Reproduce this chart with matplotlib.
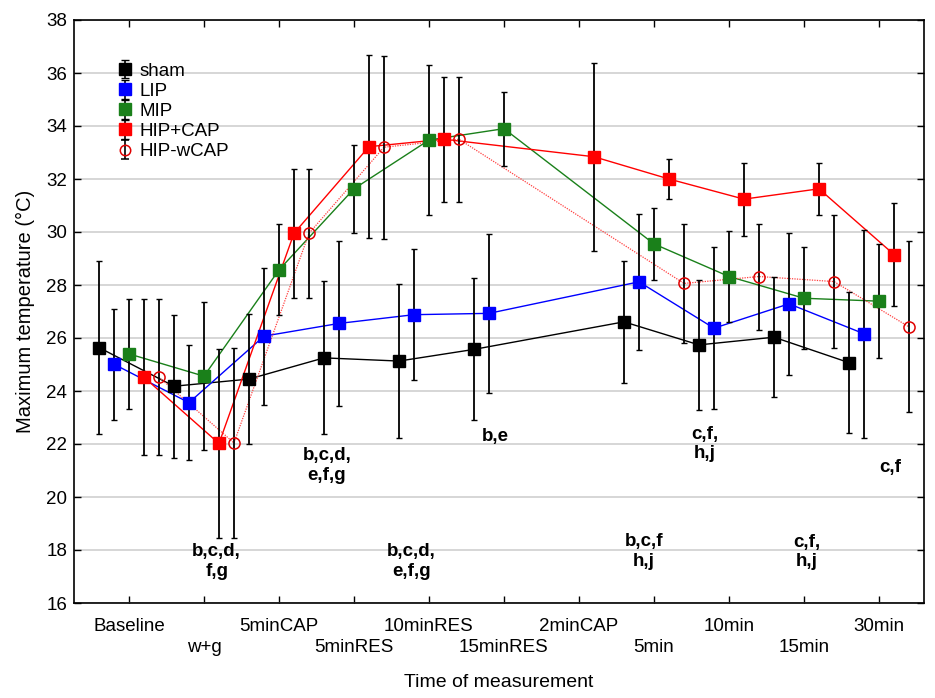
import numpy as np
import matplotlib
matplotlib.use("Agg")
import matplotlib.pyplot as plt

plt.rcParams['font.family'] = ['Liberation Sans', 'DejaVu Sans']

nan = np.nan
categories = ['Baseline', 'w+g', '5minCAP', '5minRES', '10minRES', '15minRES',
              '2minCAP', '5min', '10min', '15min', '30min']

sham = [25.64, 24.18, 24.45, 25.25, 25.13, 25.57, nan, 26.61, 25.74, 26.03, 25.07]
sham_sd = [3.28, 2.69, 2.45, 2.89, 2.89, 2.68, nan, 2.30, 2.46, 2.27, 2.65]

lip = [25.01, 23.56, 26.07, 26.55, 26.88, 26.93, nan, 28.12, 26.37, 27.29, 26.16]
lip_sd = [2.10, 2.16, 2.58, 3.12, 2.48, 3.00, nan, 2.57, 3.05, 2.68, 3.93]

mip = [25.40, 24.56, 28.57, 31.63, 33.47, 33.90, nan, 29.55, 28.32, 27.50, 27.39]
mip_sd = [2.09, 2.80, 1.72, 1.67, 2.83, 1.40, nan, 1.36, 1.70, 1.92, 2.16]

hip_cap = [24.52, 22.02, 29.95, 33.22, 33.50, nan, 32.84, 32.00, 31.24, 31.63, 29.15]
hip_cap_sd = [2.94, 3.58, 2.44, 3.45, 2.36, nan, 3.55, 0.75, 1.38, 0.98, 1.93]

hip_wcap = [24.52, 22.04, 29.95, 33.20, 33.50, nan, nan, 28.06, 28.32, 28.13, 26.42]
hip_wcap_sd = [2.94, 3.58, 2.44, 3.45, 2.36, nan, nan, 2.25, 2.00, 2.52, 3.23]

series_names = ['sham', 'LIP', 'MIP', 'HIP+CAP', 'HIP-wCAP']

annotations = [
    ("b,c,d,\nf,g", 1.17, 17.56),
    ("b,c,d,\ne,f,g", 2.64, 21.2),
    ("b,c,d,\ne,f,g", 3.77, 17.56),
    ("b,e", 4.89, 22.3),
    ("b,c,f\nh,j", 6.87, 17.94),
    ("c,f,\nh,j", 7.68, 22.0),
    ("c,f,\nh,j", 9.04, 17.92),
    ("c,f", 10.15, 21.12),
]

fig = plt.figure(figsize=(9.35, 6.98), dpi=100)
ax = fig.add_axes([74/935, 1 - 603/698, (924-74)/935, (603-20)/698])

styles = [
    dict(color='black', ls='-', lw=1.0, marker='s', mfc='black', mec='black', ms=8.5),
    dict(color='#0000ff', ls='-', lw=1.0, marker='s', mfc='#0000ff', mec='#0000ff', ms=8.5),
    dict(color='#1a801a', ls='-', lw=1.0, marker='s', mfc='#1a801a', mec='#1a801a', ms=8.5),
    dict(color='#ff0000', ls='-', lw=1.0, marker='s', mfc='#ff0000', mec='#ff0000', ms=8.5),
    dict(color='#ff4040', ls=(0, (1, 1)), lw=0.9, marker='o', mfc='none', mec='#e00000', ms=8, mew=1.1),
]
data = [(sham, sham_sd), (lip, lip_sd), (mip, mip_sd), (hip_cap, hip_cap_sd), (hip_wcap, hip_wcap_sd)]
offsets = [-0.4, -0.2, 0.0, 0.2, 0.4]

x_base = np.arange(len(categories))
handles = []
for (vals, sd), off, st, name in zip(data, offsets, styles, series_names):
    v = np.array(vals, dtype=float)
    s = np.array(sd, dtype=float)
    m = ~np.isnan(v)
    xx = x_base[m] + off
    ax.plot(xx, v[m], color=st['color'], ls=st['ls'], lw=st['lw'], zorder=2)
    ax.errorbar(xx, v[m], yerr=s[m], fmt='none', ecolor='black', elinewidth=1.3,
                capsize=2, capthick=1.0, zorder=3)
    ax.plot(xx, v[m], ls='none', marker=st['marker'], mfc=st['mfc'], mec=st['mec'],
            ms=st['ms'], mew=st.get('mew', 1.0), zorder=4)
    h = ax.errorbar([nan], [nan], yerr=[1], fmt=st['marker'], ls='none',
                    mfc=st['mfc'], mec=st['mec'], ms=st['ms'] - 0.5, mew=st.get('mew', 1.0),
                    ecolor='black', elinewidth=1.2, capsize=3, capthick=1.0, label=name)
    handles.append(h)

ax.set_xlim(-0.733, 10.6)
ax.set_ylim(16, 38)
ax.set_yticks(np.arange(16, 39, 2))
ax.set_xticks(x_base)
ax.set_xticklabels(categories, fontsize=13.5)
ax.grid(axis='y', color='#d0d0d0', lw=1.2, zorder=0)
ax.set_axisbelow(True)
ax.tick_params(direction='in', length=5, width=1, top=True, right=True)
ax.tick_params(axis='y', pad=5, labelsize=13.5)
for i, tick in enumerate(ax.xaxis.get_major_ticks()):
    tick.set_pad(11 if i % 2 == 0 else 26)
for sp in ax.spines.values():
    sp.set_linewidth(1.2)

ax.set_xlabel('Time of measurement', fontsize=14, labelpad=13)
ax.set_ylabel('Maximum temperature (°C)', fontsize=14.5, labelpad=8)

for txt, x, y in annotations:
    ax.text(x, y, txt, ha='center', va='center', fontsize=13.5, fontweight='bold',
            linespacing=1.2, zorder=5)

leg = ax.legend(handles=handles, loc='upper left', bbox_to_anchor=(0.042, 0.94),
                frameon=False, fontsize=13.5, handlelength=0.8, handletextpad=0.4,
                labelspacing=0.16, borderaxespad=0)

fig.savefig('out.png', dpi=100)
